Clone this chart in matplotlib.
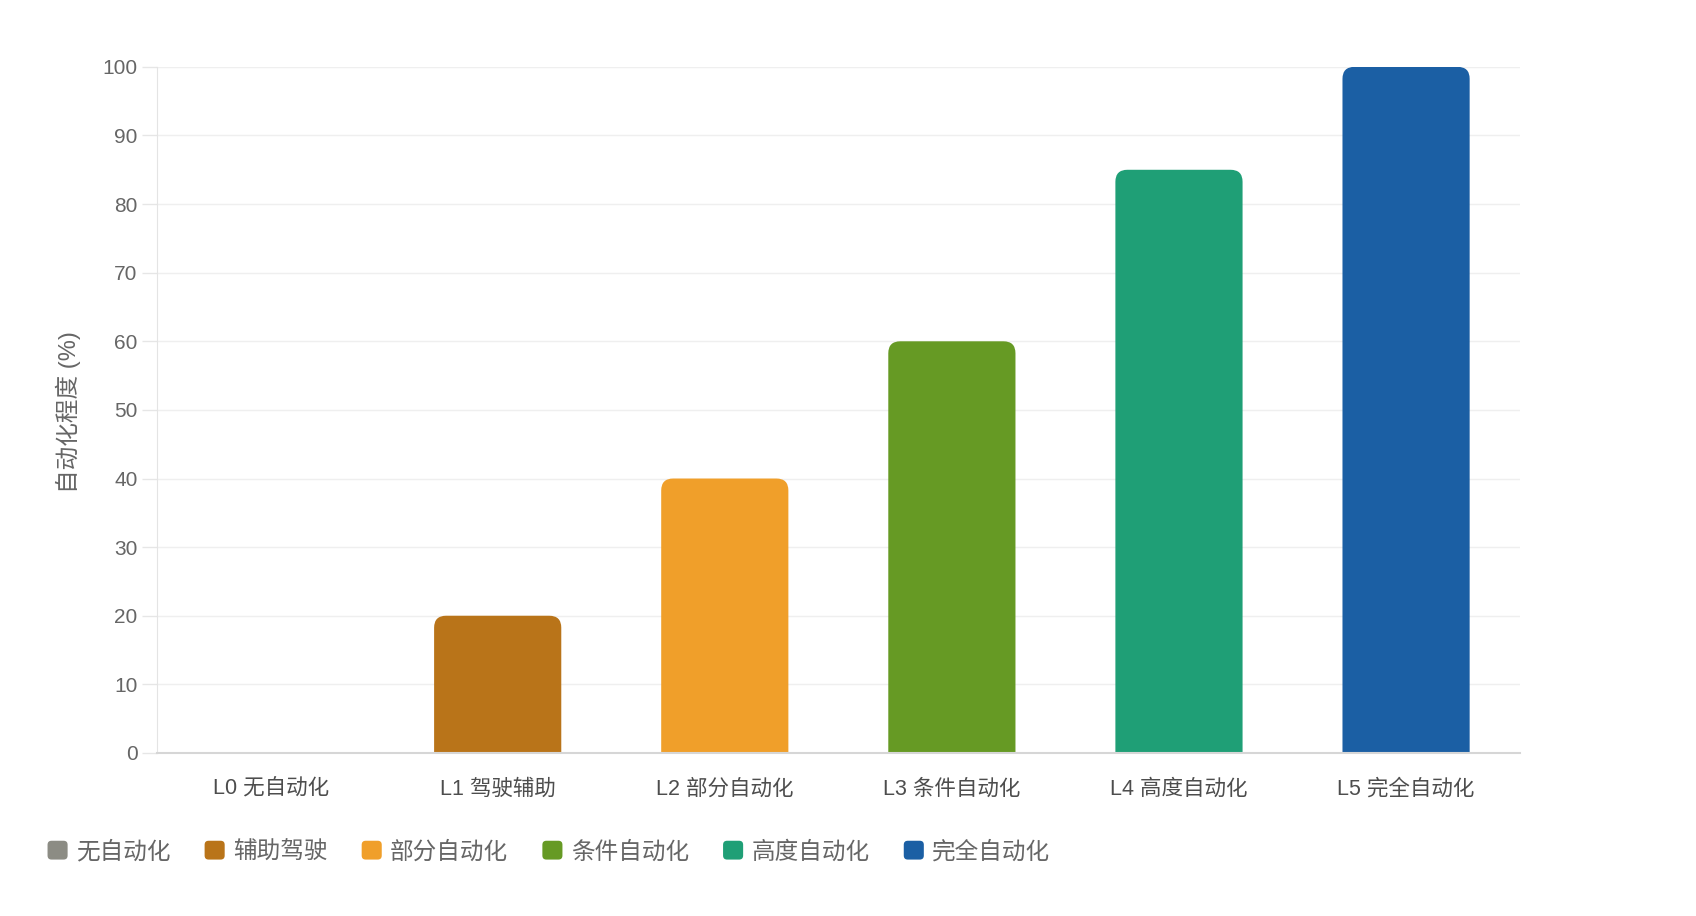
import matplotlib
matplotlib.use("Agg")
import matplotlib.pyplot as plt
from matplotlib.patches import PathPatch, FancyBboxPatch, Patch
from matplotlib.path import Path
from matplotlib.legend_handler import HandlerPatch
import numpy as np

plt.rcParams['font.family'] = ['Liberation Sans', 'Noto Sans CJK SC', 'DejaVu Sans']

# data
categories = ["L0 无自动化", "L1 驾驶辅助", "L2 部分自动化", "L3 条件自动化", "L4 高度自动化", "L5 完全自动化"]
legend_labels = ["无自动化", "辅助驾驶", "部分自动化", "条件自动化", "高度自动化", "完全自动化"]
values = [0, 20, 40, 60, 85, 100]
colors = ['#8c8c84', '#b97419', '#f09f2a', '#669a24', '#1f9f76', '#1b5fa4']
yticks = [0, 10, 20, 30, 40, 50, 60, 70, 80, 90, 100]

FIG_W, FIG_H, DPI = 16.96, 9.16, 100
BAR_W = 0.56
CORNER_PX = 12

fig = plt.figure(figsize=(FIG_W, FIG_H), dpi=DPI)
ax = fig.add_axes([0.0926, 0.178, 0.896 - 0.0926, 0.927 - 0.178])

x = np.arange(len(categories))
ax.set_xlim(-0.5, len(categories) - 0.5)
ax.set_ylim(0, 100)

bars = ax.bar(x, values, width=BAR_W, color=colors, linewidth=0, zorder=2)

# swap each bar for the same shape with rounded top corners
ax_w_px = ax.get_position().width * FIG_W * DPI
ax_h_px = ax.get_position().height * FIG_H * DPI
rx = CORNER_PX * len(categories) / ax_w_px
ry = CORNER_PX * 100 / ax_h_px
for b, c in zip(bars, colors):
    h = b.get_height()
    b.set_visible(False)
    if h <= 0:
        continue
    x0, x1 = b.get_x(), b.get_x() + b.get_width()
    verts = [(x0, 0), (x0, h - ry), (x0, h), (x0 + rx, h), (x1 - rx, h),
             (x1, h), (x1, h - ry), (x1, 0), (x0, 0)]
    codes = [Path.MOVETO, Path.LINETO, Path.CURVE3, Path.CURVE3, Path.LINETO,
             Path.CURVE3, Path.CURVE3, Path.LINETO, Path.CLOSEPOLY]
    ax.add_patch(PathPatch(Path(verts, codes), facecolor=c, linewidth=0, zorder=2))

ax.set_xticks(x)
ax.set_xticklabels(categories, fontsize=15.5, color='#4d4d4d')
ax.set_yticks(yticks)
ax.tick_params(axis='y', labelsize=15, labelcolor='#666666', length=11,
               width=1, color='#e6e6e6', pad=3)
ax.tick_params(axis='x', length=0, pad=18.5)

ax.grid(axis='y', color='#efefef', linewidth=1, zorder=0)
ax.set_axisbelow(True)
for s in ['top', 'right']:
    ax.spines[s].set_visible(False)
ax.spines['left'].set_color('#e4e4e4')
ax.spines['bottom'].set_color('#d6d6d6')
ax.spines['bottom'].set_linewidth(1.5)

ax.set_ylabel("自动化程度 (%)", fontsize=17, color='#666666')
ax.yaxis.set_label_coords(-0.056, 0.497)


def rounded_square(legend, orig_handle, xdescent, ydescent, width, height, fontsize):
    return FancyBboxPatch((-xdescent, -ydescent), width, height,
                          boxstyle=f"round,pad=0,rounding_size={width * 0.2}",
                          linewidth=0)


handles = [Patch(facecolor=c, label=l) for c, l in zip(colors, legend_labels)]
fig.legend(handles=handles, loc='center left',
           bbox_to_anchor=(0.0155, 1 - 852 / 916), ncol=6, frameon=False,
           fontsize=17, labelcolor='#666666', handlelength=0.85,
           handleheight=0.85, handletextpad=0.35, columnspacing=1.45,
           handler_map={Patch: HandlerPatch(patch_func=rounded_square)})

fig.savefig("out.png", dpi=DPI)
